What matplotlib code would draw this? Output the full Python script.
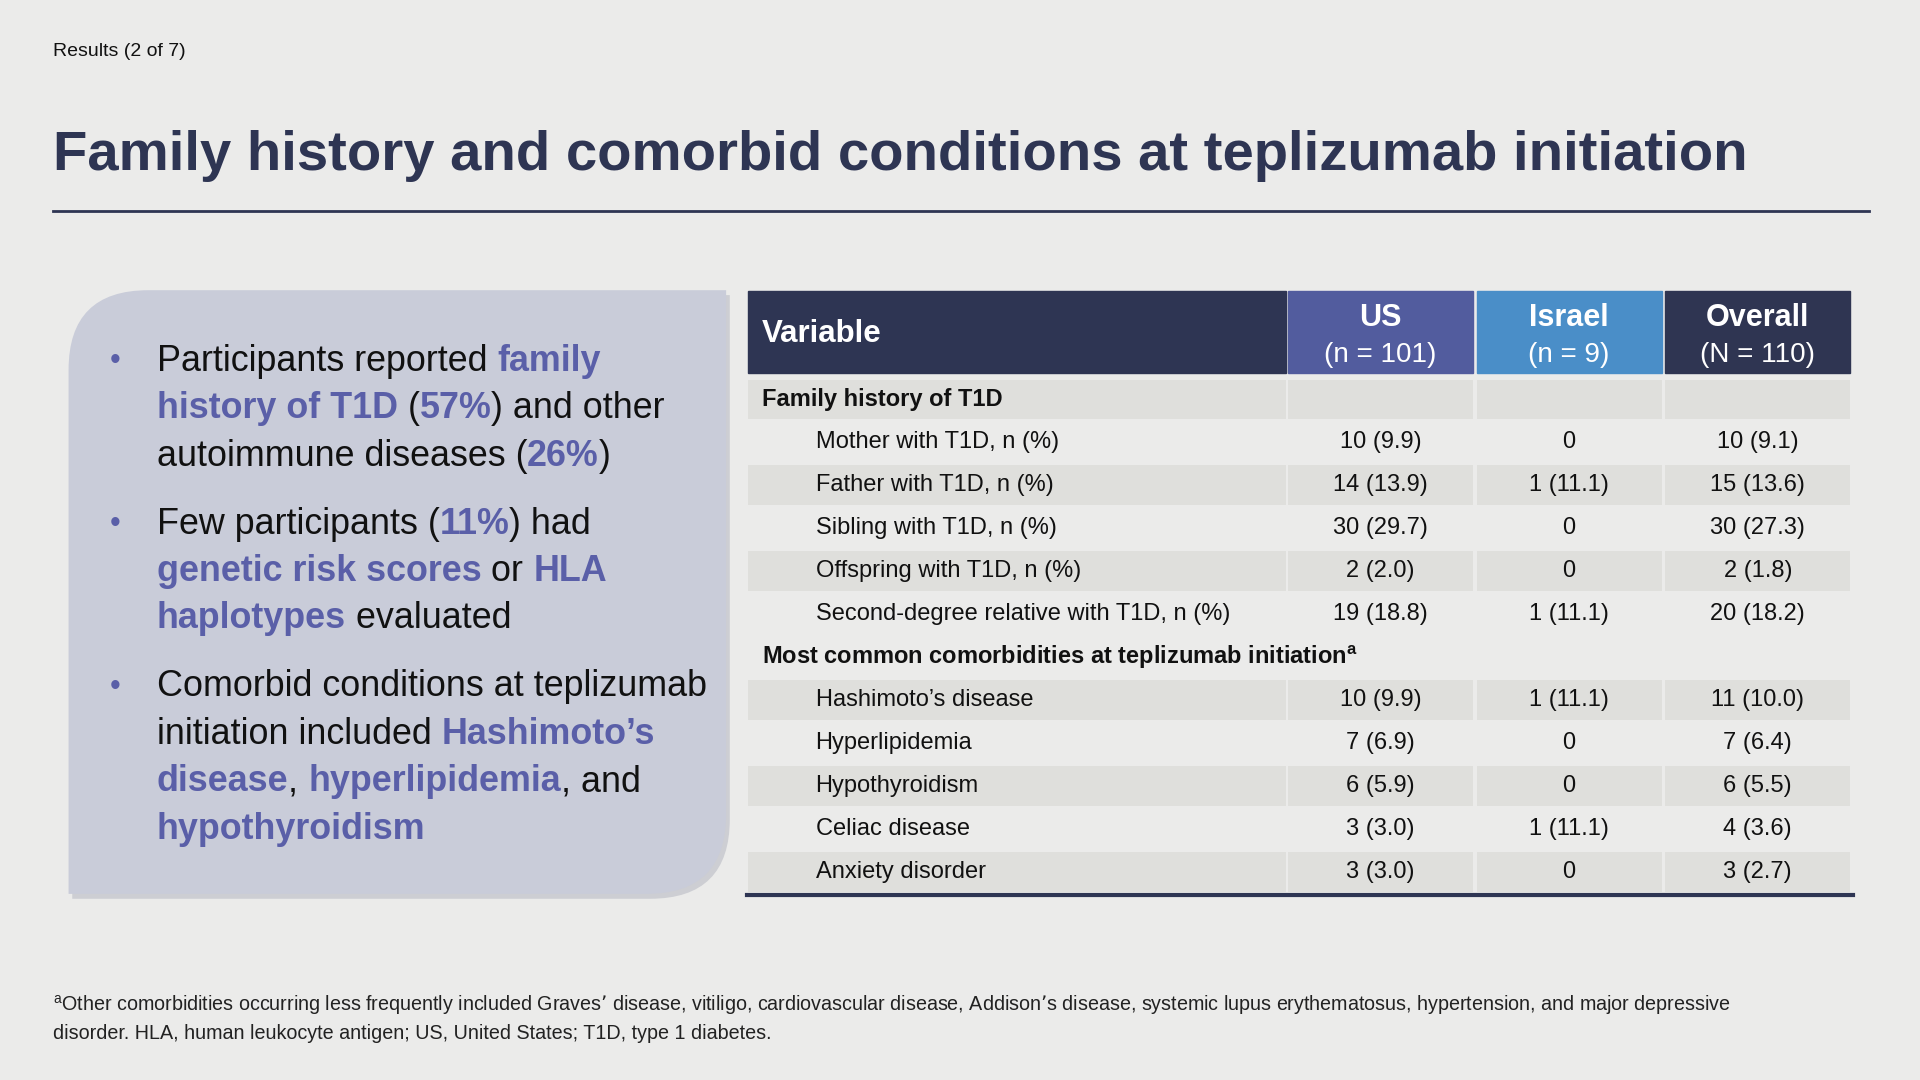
import matplotlib
matplotlib.use("Agg")
import matplotlib.pyplot as plt
from matplotlib.path import Path
from matplotlib.patches import PathPatch, Rectangle

plt.rcParams["font.family"] = ["Liberation Sans", "DejaVu Sans"]

W, H = 1568, 882
S = 1920 / W
BG = "#ebebea"
NAVY = "#2e3553"
PURPLE = "#5a5fa8"

col_heads = ["US", "Israel", "Overall"]
col_ns = ["(n = 101)", "(n = 9)", "(N = 110)"]
col_colors = ["#525c9e", "#4a8ec8", "#2f3552"]

rows = ["Family history of T1D", "Mother with T1D, n (%)", "Father with T1D, n (%)",
        "Sibling with T1D, n (%)", "Offspring with T1D, n (%)",
        "Second-degree relative with T1D, n (%)",
        "Most common comorbidities at teplizumab initiation$^{\\mathregular{a}}$",
        "Hashimoto\u2019s disease", "Hyperlipidemia", "Hypothyroidism",
        "Celiac disease", "Anxiety disorder"]
is_section = [True, False, False, False, False, False, True, False, False, False, False, False]
shaded = [True, False, True, False, True, False, False, True, False, True, False, True]
us = ["", "10 (9.9)", "14 (13.9)", "30 (29.7)", "2 (2.0)", "19 (18.8)", "",
      "10 (9.9)", "7 (6.9)", "6 (5.9)", "3 (3.0)", "3 (3.0)"]
israel = ["", "0", "1 (11.1)", "0", "0", "1 (11.1)", "",
          "1 (11.1)", "0", "0", "1 (11.1)", "0"]
overall = ["", "10 (9.1)", "15 (13.6)", "30 (27.3)", "2 (1.8)", "20 (18.2)", "",
           "11 (10.0)", "7 (6.4)", "6 (5.5)", "4 (3.6)", "3 (2.7)"]

bullets = [
    [[("Participants reported ", 0), ("family", 1)],
     [("history of T1D", 1), (" (", 0), ("57%", 1), (") and other", 0)],
     [("autoimmune diseases (", 0), ("26%", 1), (")", 0)]],
    [[("Few participants (", 0), ("11%", 1), (") had", 0)],
     [("genetic risk scores", 1), (" or ", 0), ("HLA", 1)],
     [("haplotypes", 1), (" evaluated", 0)]],
    [[("Comorbid conditions at teplizumab", 0)],
     [("initiation included ", 0), ("Hashimoto\u2019s", 1)],
     [("disease", 1), (", ", 0), ("hyperlipidemia", 1), (", and", 0)],
     [("hypothyroidism", 1)]],
]
bullet_tops = [295, 428, 561]

fig = plt.figure(figsize=(19.2, 10.8), dpi=100, facecolor=BG)
ax = fig.add_axes([0, 0, 1, 1])
ax.set_xlim(0, W)
ax.set_ylim(H, 0)
ax.axis("off")
ax.set_facecolor(BG)

ax.text(43, 42, "Results (2 of 7)", fontsize=14, color="#111111", va="center")
ax.text(43, 127, "Family history and comorbid conditions at teplizumab initiation",
        fontsize=40.5, fontweight="bold", color=NAVY, va="center")
ax.plot([43, 1526], [172, 172], color=NAVY, lw=2)

# left rounded box
x0, x1, y0, y1, r = 56, 593, 237, 730, 65
verts = [(x0, y0 + r), (x0, y0), (x0 + r, y0), (x1, y0), (x1, y1 - r),
         (x1, y1), (x1 - r, y1), (x0, y1), (x0, y0 + r)]
codes = [Path.MOVETO, Path.CURVE3, Path.CURVE3, Path.LINETO, Path.LINETO,
         Path.CURVE3, Path.CURVE3, Path.LINETO, Path.CLOSEPOLY]
shadow = PathPatch(Path([(vx + 3, vy + 4) for vx, vy in verts], codes),
                   facecolor="#b9bbc4", edgecolor="none", alpha=0.6)
ax.add_patch(shadow)
ax.add_patch(PathPatch(Path(verts, codes), facecolor="#c9ccd9", edgecolor="none"))

renderer = fig.canvas.get_renderer()
for top, lines in zip(bullet_tops, bullets):
    ax.text(90, top, "\u2022", fontsize=22, color=PURPLE, va="center")
    for li, segs in enumerate(lines):
        y = top + li * 38.7
        x = 128
        for txt, bold in segs:
            t = ax.text(x, y, txt, fontsize=25.8, va="center",
                        color=PURPLE if bold else "#111111",
                        fontweight="bold" if bold else "normal")
            x += t.get_window_extent(renderer).width / S

# table
cols = [(611, 1050), (1052, 1203), (1206, 1357), (1360, 1511)]
ax.add_patch(Rectangle((611, 238), 1050 - 611, 67, color=NAVY))
ax.text(622, 273, "Variable", fontsize=22.5, fontweight="bold", color="white", va="center")
for (cx0, cx1), h, n, c in zip(cols[1:], col_heads, col_ns, col_colors):
    ax.add_patch(Rectangle((cx0, 238), cx1 - cx0, 67, color=c))
    xm = (cx0 + cx1) / 2
    ax.text(xm, 260, h, fontsize=22, fontweight="bold", color="white", ha="center", va="center")
    ax.text(xm, 290, n, fontsize=20, color="white", ha="center", va="center")

row_h = 35.1
for i, lab in enumerate(rows):
    yc = 326 + i * row_h
    if shaded[i]:
        for cx0, cx1 in cols:
            ax.add_patch(Rectangle((cx0, yc - row_h / 2 + 1.5), cx1 - cx0, row_h - 3,
                                   color="#dfdfdc", lw=0))
    if is_section[i]:
        ax.text(622, yc, lab, fontsize=17, fontweight="bold", color="#111111", va="center")
    else:
        ax.text(666, yc, lab, fontsize=17, color="#111111", va="center")
    for (cx0, cx1), v in zip(cols[1:], [us[i], israel[i], overall[i]]):
        ax.text((cx0 + cx1) / 2, yc, v, fontsize=17, color="#111111", ha="center", va="center")
ax.plot([610, 1513], [731, 731], color=NAVY, lw=3)

ax.text(43, 821, "$^{\\mathregular{a}}$Other comorbidities occurring less frequently included Graves\u2019 disease, "
        "vitiligo, cardiovascular disease, Addison\u2019s disease, systemic lupus erythematosus, "
        "hypertension, and major depressive", fontsize=14.2, color="#222222", va="center")
ax.text(43, 844, "disorder. HLA, human leukocyte antigen; US, United States; T1D, type 1 diabetes.",
        fontsize=14.2, color="#222222", va="center")

fig.savefig("out.png", dpi=100, facecolor=BG)
